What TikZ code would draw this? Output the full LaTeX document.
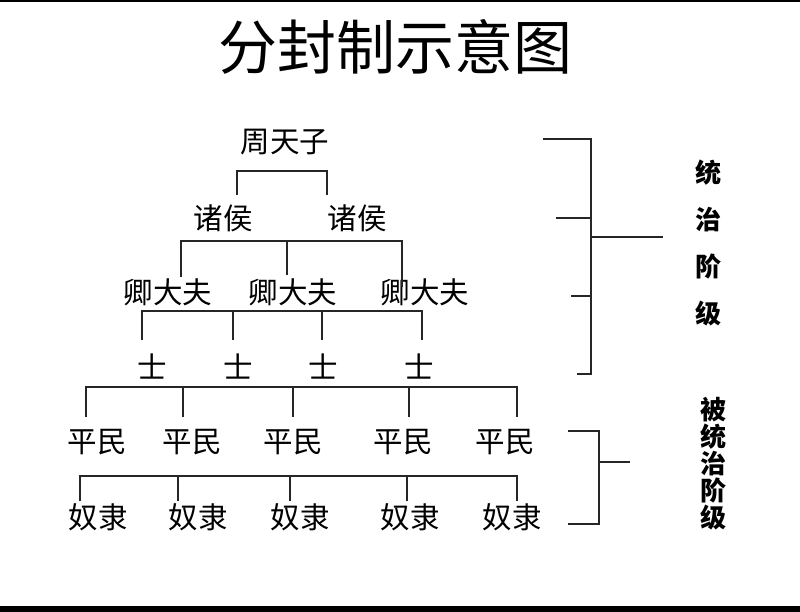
\documentclass[tikz,border=0pt]{standalone}
\usepackage{fontspec}
\usepackage{tikz}
\newfontfamily\cjk{Noto Sans CJK SC}
\usetikzlibrary{positioning}

\begin{document}
\begin{tikzpicture}[x=1pt, y=-1pt, line width=1.2pt,
                    every node/.style={inner sep=0pt},
                    rank/.style={font=\cjk\fontsize{29.5}{29.5}\selectfont},
                    side/.style={font=\cjk\bfseries\fontsize{26}{26}\selectfont},
                    bar/.style={draw=black!85, line width=1.2pt}]

\useasboundingbox (0,0) rectangle (800,612);
\fill[white] (0,0) rectangle (800,612);
\fill[black] (0,0) rectangle (800,2.5);
\fill[black] (0,606) rectangle (800,612);

\node[font=\cjk\fontsize{59}{59}\selectfont] (title) at (395,47) {分封制示意图};

\node[rank] (zhou) at (285,142) {周天子};
\node[rank] (zh1) at (223,218) {诸侯};
\node[rank] (zh2) at (357,218) {诸侯};
\node[rank] (qing1) at (168,292) {卿大夫};
\node[rank] (qing2) at (293,292) {卿大夫};
\node[rank] (qing3) at (425,292) {卿大夫};
\foreach \x [count=\i] in {152,238,323,419}
  \node[rank] (shi\i) at (\x,367) {士};
\foreach \x [count=\i] in {97,192,293,403,505}
  \node[rank] (min\i) at (\x,442) {平民};
\foreach \x [count=\i] in {98,198,300,410,512}
  \node[rank] (nu\i) at (\x,517) {奴隶};

\path[bar]
(237,195) |- (327,171) -- (327,195)
(181,277) |- (402,241) -- (402,287)
(287,241) -- (287,275)
(142,340) |- (422,311) -- (422,340)
(233,311) -- (233,340)
(322,311) -- (322,340)
(86,417) |- (517,387) -- (517,417)
(80,501) |- (517,476) -- (517,501);
\foreach \x in {183,293,409}
  \draw[bar] (\x,387) -- (\x,417);
\foreach \x in {178,290,407}
  \draw[bar] (\x,476) -- (\x,501);

\coordinate (r1) at (591,237);
\path[bar]
(543,139) -| (591,374) -- (577,374)
(556,218) -- (591,218)
(571,296) -- (591,296)
(r1) -- (663,237);
\foreach \c [count=\i] in {统,治,阶,级}
  \node[side] (rul\i) at (708,173+47*\i-47) {\c};

\coordinate (r2) at (599,462);
\path[bar]
(568,431) -| (599,524) -- (568,524)
(r2) -- (630,462);
\foreach \c [count=\i] in {被,统,治,阶,级}
  \node[side] (sub\i) at (713,410+27*\i-27) {\c};
\end{tikzpicture}
\end{document}
